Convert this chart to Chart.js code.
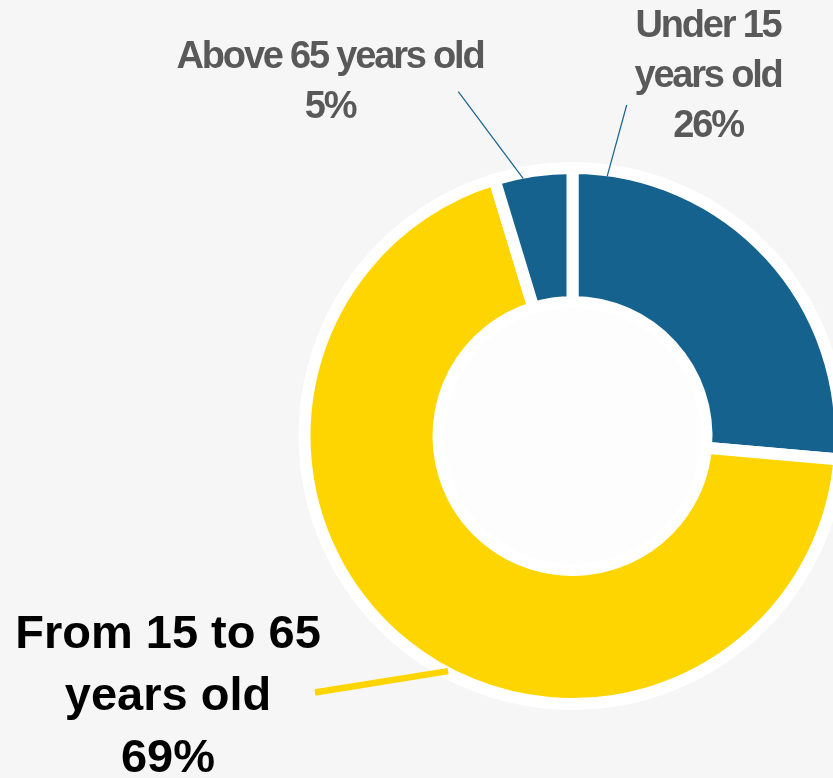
<!DOCTYPE html>
<html><head><meta charset="utf-8">
<script src="https://cdn.jsdelivr.net/npm/chart.js@4.4.0/dist/chart.umd.min.js"></script>
<style>
html,body{margin:0;padding:0;background:#f6f6f6;overflow:hidden;width:833px;height:778px;}
canvas{display:block;}
</style></head><body>
<canvas id="c" width="900" height="778"></canvas>
<script>
// ---- data ----
const categories = ['Under 15 years old', 'From 15 to 65 years old', 'Above 65 years old'];
const shares = [26.4, 68.9, 4.7];
const percentLabels = ['26%', '69%', '5%'];
const sliceColors = ['#15628F', '#FFD500', '#15628F'];

// ---- label layout (annotation placement, not data) ----
const labelLayout = [
  { lines: ['Under 15', 'years old'], x: 708, y: 37, lineH: 50, font: 'bold 38px "Liberation Sans", Arial, sans-serif', spacing: '-2.2px', color: '#595959',
    leader: { frac: 0.08, to: [626.7, 105], width: 1.2, color: '#15628F' } },
  { lines: ['From 15 to 65', 'years old'], x: 168, y: 648, lineH: 62, font: 'bold 47px "Liberation Sans", Arial, sans-serif', spacing: '0px', color: '#000000',
    leader: { frac: 0.455, to: [315, 692.5], width: 6.5, color: '#FFD500' } },
  { lines: ['Above 65 years old'], x: 330, y: 68, lineH: 50, font: 'bold 38px "Liberation Sans", Arial, sans-serif', spacing: '-2.2px', color: '#595959',
    leader: { frac: 0.36, to: [458.3, 91.7], width: 1.2, color: '#15628F' } }
];

const BORDER = 12;

const holePlugin = {
  id: 'hole',
  beforeDatasetsDraw(chart) {
    const arc = chart.getDatasetMeta(0).data[0];
    if (!arc) return;
    const p = arc.getProps(['x', 'y', 'innerRadius'], true);
    const ctx = chart.ctx;
    ctx.save();
    ctx.fillStyle = '#fdfdfd';
    ctx.beginPath();
    ctx.arc(p.x, p.y, p.innerRadius, 0, Math.PI * 2);
    ctx.fill();
    ctx.restore();
  }
};

const labelPlugin = {
  id: 'outerLabels',
  afterDatasetsDraw(chart) {
    const ctx = chart.ctx;
    const meta = chart.getDatasetMeta(0);
    meta.data.forEach((arc, i) => {
      const p = arc.getProps(['x', 'y', 'startAngle', 'endAngle', 'outerRadius'], true);
      const L = labelLayout[i];
      const a = p.startAngle + (p.endAngle - p.startAngle) * L.leader.frac;
      const r = p.outerRadius - BORDER / 2 + (i === 1 ? 4 : 0);
      ctx.save();
      ctx.strokeStyle = L.leader.color;
      ctx.lineWidth = L.leader.width;
      ctx.beginPath();
      ctx.moveTo(p.x + r * Math.cos(a), p.y + r * Math.sin(a));
      ctx.lineTo(L.leader.to[0], L.leader.to[1]);
      ctx.stroke();
      ctx.fillStyle = L.color;
      ctx.font = L.font;
      ctx.letterSpacing = L.spacing;
      ctx.textAlign = 'center';
      ctx.textBaseline = 'alphabetic';
      const lines = L.lines.concat([percentLabels[i]]);
      lines.forEach((t, k) => ctx.fillText(t, L.x, L.y + k * L.lineH));
      ctx.restore();
    });
  }
};

new Chart(document.getElementById('c'), {
  type: 'doughnut',
  data: {
    labels: categories,
    datasets: [{
      data: shares,
      backgroundColor: sliceColors,
      borderColor: '#ffffff',
      borderWidth: BORDER,
      borderJoinStyle: 'miter',
      hoverOffset: 0
    }]
  },
  options: {
    responsive: false,
    animation: false,
    events: [],
    cutout: '50%',
    layout: { padding: { left: 298.5, top: 162, right: 53.5, bottom: 68 } },
    plugins: { legend: { display: false }, tooltip: { enabled: false } }
  },
  plugins: [holePlugin, labelPlugin]
});
</script>
</body></html>
